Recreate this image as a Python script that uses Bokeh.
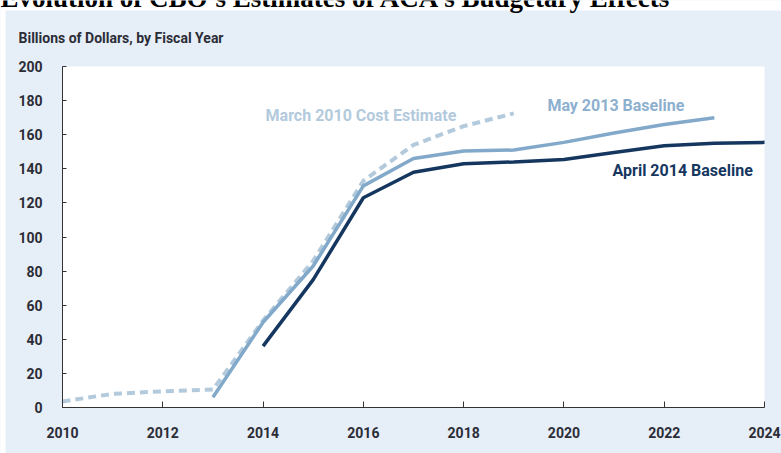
from bokeh.plotting import figure
from bokeh.models import Label, FixedTicker, Range1d
from bokeh.embed import file_html
from bokeh.resources import INLINE

# ---- data ----
years_mar2010 = [2010, 2011, 2012, 2013, 2014, 2015, 2016, 2017, 2018, 2019]
vals_mar2010 = [3.5, 8, 9.5, 10.5, 51, 86, 133, 154, 165, 172.5]

years_may2013 = [2013, 2014, 2015, 2016, 2017, 2018, 2019, 2020, 2021, 2022, 2023]
vals_may2013 = [6, 50, 83, 130, 146, 150.5, 151, 155.5, 161, 166, 170]

years_apr2014 = [2014, 2015, 2016, 2017, 2018, 2019, 2020, 2021, 2022, 2023, 2024]
vals_apr2014 = [36, 75, 123, 138, 143, 144, 145.5, 149.5, 153.5, 155, 155.5]

x_ticks = [2010, 2012, 2014, 2016, 2018, 2020, 2022, 2024]
y_ticks = [0, 20, 40, 60, 80, 100, 120, 140, 160, 180, 200]
x_min, x_max = 2010, 2024
y_min, y_max = 0, 200

title_text = "Evolution of CBO\u2019s Estimates of ACA\u2019s Budgetary Effects"
unit_text = "Billions of Dollars, by Fiscal Year"
label_mar = "March 2010 Cost Estimate"
label_may = "May 2013 Baseline"
label_apr = "April 2014 Baseline"

# ---- style ----
PANEL = "#e6eef8"
C_MAR = "#b3cadd"
C_MAY = "#82a9ca"
C_MAY_TXT = "#8eb0cf"
C_APR = "#15375f"
AX = "#333333"
TXT = "#2b2d36"
FONT = "Roboto"

# layout geometry (pixels): plot area spans x 62..764, y 66..407 of a 781x453 page
W, H = 781, 453
PX_PER_YEAR = 702 / (x_max - x_min)
PX_PER_UNIT = 341 / (y_max - y_min)
x_lo = x_min - 62 / PX_PER_YEAR          # left edge of the page
x_hi = x_max + (W - 764) / PX_PER_YEAR   # right edge of the page
y_hi = y_min + 407 / PX_PER_UNIT         # top edge of the page
y_lo = y_min - (H - 407) / PX_PER_UNIT   # bottom edge of the page

def px_x(px):
    return x_lo + px / PX_PER_YEAR

def px_y(py):
    return y_hi - py / PX_PER_UNIT

p = figure(width=W, height=H, output_backend="svg", toolbar_location=None,
           x_range=Range1d(x_lo, x_hi), y_range=Range1d(y_lo, y_hi),
           min_border_left=0, min_border_right=0, min_border_top=0, min_border_bottom=0)
p.border_fill_color = PANEL
p.background_fill_color = PANEL
p.outline_line_color = None
p.xgrid.visible = False
p.ygrid.visible = False

for ax in (p.xaxis[0], p.yaxis[0]):
    ax.axis_line_color = AX
    ax.axis_line_width = 1
    ax.major_tick_line_color = AX
    ax.major_tick_out = 0
    ax.minor_tick_line_color = None
    ax.major_label_text_font = FONT
    ax.major_label_text_font_style = "bold"
    ax.major_label_text_font_size = "14px"
    ax.major_label_text_color = TXT

p.xaxis[0].ticker = FixedTicker(ticks=x_ticks)
p.yaxis[0].ticker = FixedTicker(ticks=y_ticks)
p.xaxis[0].bounds = (x_min, x_max)
p.yaxis[0].bounds = (y_min, y_max)
p.yaxis[0].fixed_location = x_min
p.xaxis[0].fixed_location = y_min
p.xaxis[0].major_tick_in = 6
p.yaxis[0].major_tick_in = 4
p.xaxis[0].major_label_standoff = 19
p.yaxis[0].major_label_standoff = 20

# white page strips (top, left) and white plot area
p.quad(left=[x_lo - 1], right=[x_hi + 1], bottom=[px_y(10)], top=[y_hi + 5],
       fill_color="white", line_color=None)
p.quad(left=[x_lo - 1], right=[px_x(5)], bottom=[y_lo - 5], top=[y_hi + 5],
       fill_color="white", line_color=None)
p.quad(left=[x_min], right=[x_max], bottom=[y_min], top=[y_max],
       fill_color="white", line_color=None)

p.line(years_mar2010, vals_mar2010, line_color=C_MAR, line_width=4, line_dash="8 5")
p.line(years_may2013, vals_may2013, line_color=C_MAY, line_width=3.5)
p.line(years_apr2014, vals_apr2014, line_color=C_APR, line_width=3.5)

p.add_layout(Label(x=2014.05, y=171, text=label_mar, text_color=C_MAR,
                   text_font=FONT, text_font_style="bold", text_font_size="16px",
                   text_baseline="middle"))
p.add_layout(Label(x=2019.67, y=177, text=label_may, text_color=C_MAY_TXT,
                   text_font=FONT, text_font_style="bold", text_font_size="16px",
                   text_baseline="middle"))
p.add_layout(Label(x=2020.97, y=139, text=label_apr, text_color=C_APR,
                   text_font=FONT, text_font_style="bold", text_font_size="16px",
                   text_baseline="middle"))

# unit label and the (clipped) title above the panel
p.add_layout(Label(x=px_x(18), y=px_y(37.5), text=unit_text,
                   text_color=TXT, text_font=FONT, text_font_style="bold",
                   text_font_size="14px", text_baseline="middle"))
p.add_layout(Label(x=px_x(0), y=px_y(-2.5), text=title_text,
                   text_color="black", text_font="Liberation Serif", text_font_style="bold",
                   text_font_size="27px", text_baseline="alphabetic"))

open("out.html", "w").write(file_html(p, INLINE))
